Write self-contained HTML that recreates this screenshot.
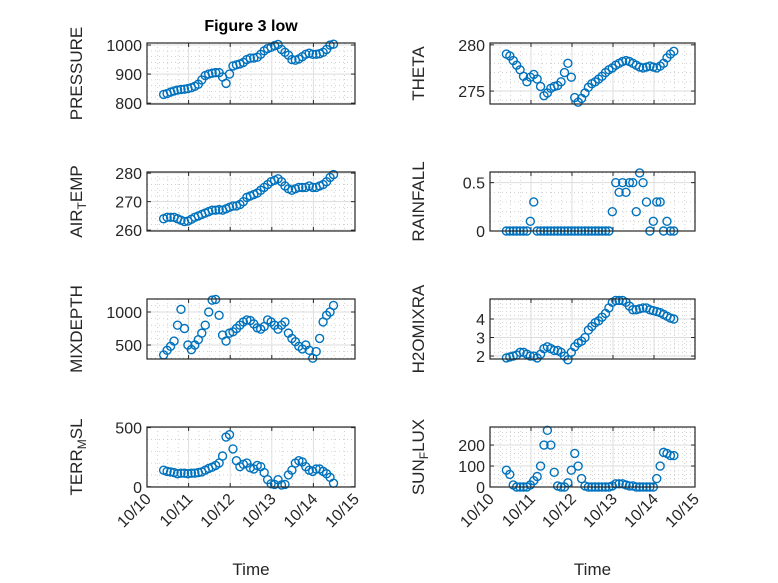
<!DOCTYPE html>
<html><head><meta charset="utf-8"><style>
body{margin:0;background:#fff}
svg{display:block;font-family:"Liberation Sans","DejaVu Sans",sans-serif}
</style></head><body>
<svg id="fig" width="778" height="583" viewBox="0 0 778 583">
<rect width="778" height="583" fill="#fff"/>
<text x="251" y="31" text-anchor="middle" font-size="16" font-weight="bold" fill="#000">Figure 3 low</text>
</svg>
<script>
const xTickLabels=["10/10","10/11","10/12","10/13","10/14","10/15"];
const sampleStep=1/12, sampleStart=0.4;
const pressure=[830,833,838,842,845,847,848,850,853,858,865,880,895,900,903,905,905,890,868,900,928,932,935,940,950,955,955,958,968,980,988,992,998,1002,985,975,965,950,948,952,960,968,972,968,968,970,975,985,1000,1003];
const airTemp=[264,264.5,264.5,264.5,264,263.5,263,263.2,263.8,264.5,265,265.5,266,266.5,267,267,267.2,267,267.5,268,268.5,268.5,269,270,271.5,272,272.5,273,274,275,276,277,277.5,278,277,275.5,274.5,274,274.5,275,275,275,275.5,275,275,275.5,276,277,278.5,279.5];
const mixDepth=[350,420,480,560,800,1040,750,500,430,500,580,680,800,1000,1180,1190,950,650,560,680,700,750,800,850,880,870,820,760,740,780,880,850,800,740,800,850,680,600,550,480,440,500,420,300,400,600,850,950,1000,1100];
const terrMsl=[140,130,125,120,110,115,115,110,115,115,120,125,140,155,165,180,200,260,420,440,320,220,170,190,200,160,150,180,170,120,60,25,20,60,15,20,100,140,200,220,210,170,140,130,150,150,130,110,80,30];
const theta=[279,278.8,278.3,277.8,277.3,276.6,276,276.5,276.8,276.3,275.5,274.5,274.8,275.3,275.5,275.6,276,277,278,276.5,274.3,273.8,274.2,274.8,275.4,275.8,276,276.3,276.6,277,277.3,277.5,277.8,278,278.2,278.3,278.2,278,277.8,277.6,277.5,277.6,277.7,277.6,277.5,277.7,278,278.6,279,279.3];
const rainfall=[0,0,0,0,0,0,0,0.1,0.3,0,0,0,0,0,0,0,0,0,0,0,0,0,0,0,0,0,0,0,0,0,0,0.2,0.5,0.4,0.5,0.4,0.5,0.5,0.2,0.6,0.5,0.3,0,0.1,0.3,0.3,0,0.1,0,0];
const h2oMix=[1.9,1.95,2.0,2.05,2.2,2.2,2.1,2.0,2.0,1.9,2.1,2.4,2.5,2.4,2.3,2.3,2.2,2.0,1.8,2.2,2.5,2.7,2.8,3.0,3.4,3.6,3.8,3.9,4.1,4.3,4.6,4.9,5.0,5.0,5.0,4.9,4.7,4.5,4.5,4.55,4.6,4.6,4.5,4.45,4.4,4.35,4.25,4.15,4.05,4.0];
const sunFlux=[80,60,10,0,0,0,0,10,30,50,100,200,270,200,70,5,0,0,20,80,160,100,40,5,0,0,0,0,0,0,0,5,15,15,15,10,5,5,0,0,0,0,0,0,40,100,165,160,150,150];
const pressureTicks=[800,900,1000], airTicks=[260,270,280], mixTicks=[500,1000], terrTicks=[0,500];
const thetaTicks=[275,280], rainTicks=[0,0.5], h2oTicks=[2,3,4], sunTicks=[0,100,200];

const NS="http://www.w3.org/2000/svg";
const svg=document.getElementById('fig');
function mk(tag,attrs,parent){const e=document.createElementNS(NS,tag);for(const k in attrs)e.setAttribute(k,attrs[k]);(parent||svg).appendChild(e);return e;}

function panel(cfg){
  const {x0,x1,y0,y1,ymin,ymax,ticks,minor,data,name,label,bottom}=cfg;
  const g=mk('g',{});
  
  
  const sx=d=>x0+(x1-x0)*d/5;
  const sy=v=>y1-(y1-y0)*(v-ymin)/(ymax-ymin);
  for(let d=0.25;d<5;d+=0.25){ if(Math.abs(d-Math.round(d))<1e-6)continue;
    mk('line',{x1:sx(d),x2:sx(d),y1:y0,y2:y1,stroke:'#c8c8c8','stroke-width':0.8,'stroke-dasharray':'1 3'},g);}
  for(let v=Math.ceil(ymin/minor)*minor;v<=ymax;v+=minor){
    mk('line',{x1:x0,x2:x1,y1:sy(v),y2:sy(v),stroke:'#c8c8c8','stroke-width':0.8,'stroke-dasharray':'1 3'},g);}
  for(let d=1;d<5;d++) mk('line',{x1:sx(d),x2:sx(d),y1:y0,y2:y1,stroke:'#dedede','stroke-width':1},g);
  ticks.forEach(v=>{
    mk('line',{x1:x0,x2:x1,y1:sy(v),y2:sy(v),stroke:'#dedede','stroke-width':1},g);
    mk('line',{x1:x0,x2:x0+4,y1:sy(v),y2:sy(v),stroke:'#262626'},g);
    mk('line',{x1:x1,x2:x1-4,y1:sy(v),y2:sy(v),stroke:'#262626'},g);
    const t=mk('text',{x:x0-5,y:sy(v)+6,'text-anchor':'end','font-size':16,fill:'#262626'},g);
    t.textContent=String(v);
    
    
  });
  for(let d=0;d<=5;d++){
    mk('line',{x1:sx(d),x2:sx(d),y1:y1,y2:y1-4,stroke:'#262626'},g);
    mk('line',{x1:sx(d),x2:sx(d),y1:y0,y2:y0+4,stroke:'#262626'},g);
    if(bottom){
      const tx=mk('text',{x:sx(d)+5,y:y1+13,'text-anchor':'end','font-size':16,fill:'#262626',transform:`rotate(-45 ${sx(d)+5} ${y1+13})`},g);
      tx.textContent=xTickLabels[d];
      
      
    }
  }
  data.forEach((v,i)=>{
    const t=sampleStart+i*sampleStep;
    const c=mk('circle',{cx:sx(t),cy:sy(v),r:4,fill:'none',stroke:'#0072BD','stroke-width':1.4},g);
    
    
  });
  mk('rect',{x:x0,y:y0,width:x1-x0,height:y1-y0,fill:'none',stroke:'#262626','stroke-width':1.2},g);
  const lx=cfg.lx, ly=(y0+y1)/2;
  const lt=mk('text',{x:lx,y:ly,'text-anchor':'middle','font-size':17,fill:'#262626',transform:`rotate(-90 ${lx} ${ly})`},g);
  lt.innerHTML=label;
  
  
  if(bottom){
    const tl=mk('text',{x:(x0+x1)/2,y:575,'text-anchor':'middle','font-size':17,fill:'#262626'},g);
    tl.textContent='Time';
    
    
  }
}
const L={x0:147,x1:355,lx:82}, R={x0:490,x1:695,lx:424};
const rows=[[43,104],[172,231],[299,359],[427,487]];
panel({...L,y0:rows[0][0],y1:rows[0][1],ymin:797,ymax:1007,ticks:pressureTicks,minor:20,data:pressure,name:'pressure',label:'PRESSURE'});
panel({...L,y0:rows[1][0],y1:rows[1][1],ymin:259.7,ymax:280.4,ticks:airTicks,minor:2,data:airTemp,name:'air-temp',label:'AIR<tspan font-size="12" baseline-shift="-4">T</tspan>EMP'});
panel({...L,y0:rows[2][0],y1:rows[2][1],ymin:288,ymax:1197,ticks:mixTicks,minor:100,data:mixDepth,name:'mixdepth',label:'MIXDEPTH'});
panel({...L,y0:rows[3][0],y1:rows[3][1],ymin:-2,ymax:505,ticks:terrTicks,minor:100,data:terrMsl,name:'terr-msl',label:'TERR<tspan font-size="12" baseline-shift="-4">M</tspan>SL',bottom:true});
panel({...R,y0:rows[0][0],y1:rows[0][1],ymin:273.6,ymax:280.2,ticks:thetaTicks,minor:1,data:theta,name:'theta',label:'THETA'});
panel({...R,y0:rows[1][0],y1:rows[1][1],ymin:0,ymax:0.61,ticks:rainTicks,minor:0.1,data:rainfall,name:'rainfall',label:'RAINFALL'});
panel({...R,y0:rows[2][0],y1:rows[2][1],ymin:1.84,ymax:5.08,ticks:h2oTicks,minor:0.2,data:h2oMix,name:'h2omixra',label:'H2OMIXRA'});
panel({...R,y0:rows[3][0],y1:rows[3][1],ymin:0,ymax:286,ticks:sunTicks,minor:20,data:sunFlux,name:'sun-flux',label:'SUN<tspan font-size="12" baseline-shift="-4">F</tspan>LUX',bottom:true});
</script>
</body></html>
